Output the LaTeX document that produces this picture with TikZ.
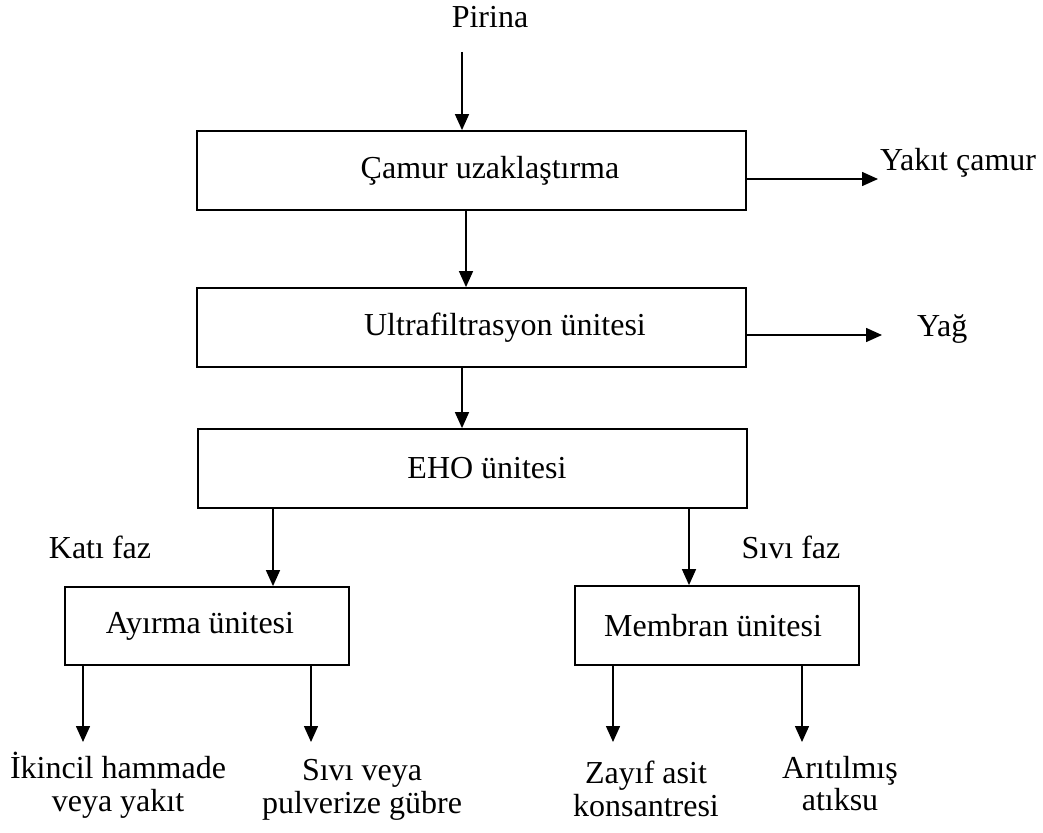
\documentclass[tikz,border=0pt]{standalone}
\usepackage{fontspec}
\setmainfont{Liberation Serif}
\usetikzlibrary{arrows.meta}

\tikzset{
  unit/.style={draw, line width=1.8pt, rectangle, inner sep=0pt, align=center},
  lbl/.style={inner sep=0pt, align=center},
  flow/.style={line width=1.5pt, -{Triangle[length=16pt,width=14pt]}},
}

\begin{document}
\begin{tikzpicture}[x=1pt, y=-1pt, font=\fontsize{32}{33}\selectfont]
\useasboundingbox (0,0) rectangle (1043,832);

% main chain of process units
\node[unit, minimum width=549pt, minimum height=79pt] (b1) at (471.5,170.5) {\hspace*{37pt}Çamur uzaklaştırma};
\node[unit, minimum width=549pt, minimum height=79pt] (b2) at (471.5,327.5) {\hspace*{67pt}Ultrafiltrasyon ünitesi};
\node[unit, minimum width=549pt, minimum height=79pt] (b3) at (472.5,468.5) {\hspace*{29pt}EHO ünitesi};
\node[unit, minimum width=284pt, minimum height=78pt] (b4) at (207,626) {Ayırma ünitesi\hspace*{14pt}};
\node[unit, minimum width=284pt, minimum height=79pt] (b5) at (717,625.5) {Membran ünitesi\hspace*{8pt}};

% feed and side streams
\node[lbl, anchor=base] (pirina) at (490,28) {Pirina};
\node[lbl, anchor=base west] (yakit) at (880,170) {Yakıt çamur};
\node[lbl, anchor=base west] (yag) at (917,336) {Yağ};
\node[lbl, anchor=base] (kati) at (100,558) {Katı faz};
\node[lbl, anchor=base] (sivi) at (791,558) {Sıvı faz};

% products
\node[lbl, anchor=base] (p1a) at (118,778) {İkincil hammade};
\node[lbl, anchor=base] (p1b) at (118,811) {veya yakıt};
\node[lbl, anchor=base] (p2a) at (362,780) {Sıvı veya};
\node[lbl, anchor=base] (p2b) at (362,813) {pulverize gübre};
\node[lbl, anchor=base] (p3a) at (646,783) {Zayıf asit};
\node[lbl, anchor=base] (p3b) at (646,816) {konsantresi};
\node[lbl, anchor=base] (p4a) at (840,778) {Arıtılmış};
\node[lbl, anchor=base] (p4b) at (840,810) {atıksu};

% connectors
\coordinate (feed) at (462,52);
\draw[flow] (feed) -- (feed |- b1.north);
\draw[flow] (b1.south -| 466,0) -- (b2.north -| 466,0);
\draw[flow] (b2.south -| 462,0) -- (b3.north -| 462,0);
\draw[flow] ([yshift=-8.5pt]b1.east) -- ([yshift=-8.5pt]b1.east -| 878,0);
\draw[flow] ([yshift=-7.5pt]b2.east) -- ([yshift=-7.5pt]b2.east -| 882,0);

\draw[flow] (b3.south -| 273,0) -- (b4.north -| 273,0);
\draw[flow] (b3.south -| 689,0) -- (b5.north -| 689,0);

\coordinate (e1) at (83,742);
\coordinate (e2) at (311,742);
\coordinate (e3) at (613,742);
\coordinate (e4) at (802,742);
\draw[flow] (b4.south -| e1) -- (e1);
\draw[flow] (b4.south -| e2) -- (e2);
\draw[flow] (b5.south -| e3) -- (e3);
\draw[flow] (b5.south -| e4) -- (e4);
\end{tikzpicture}
\end{document}
